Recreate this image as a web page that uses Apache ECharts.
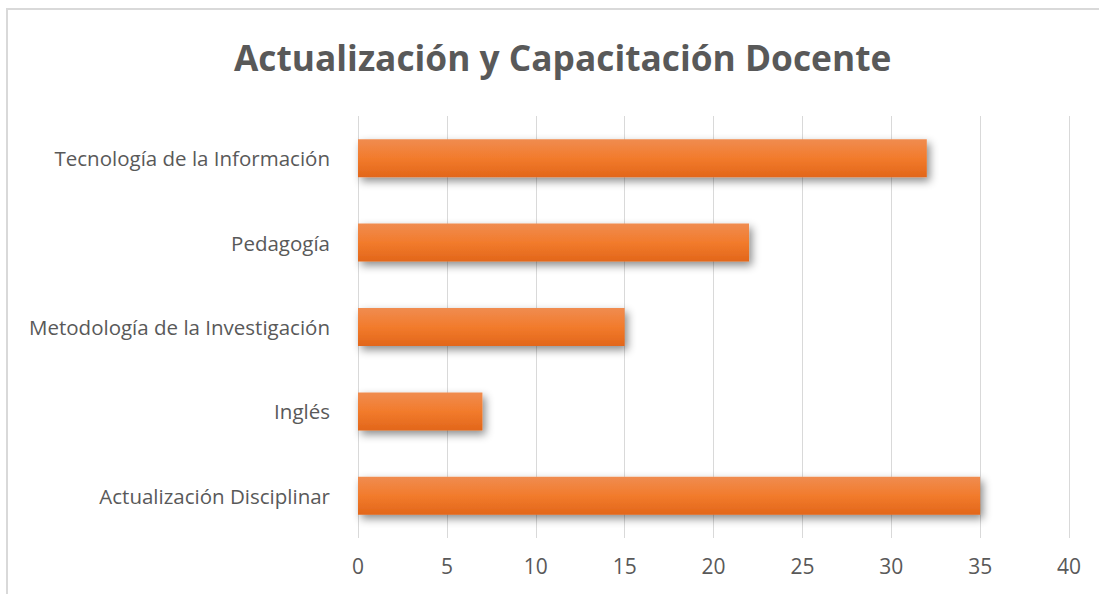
<!DOCTYPE html>
<html>
<head>
<meta charset="utf-8">
<title>Actualización y Capacitación Docente</title>
<script src="https://cdn.jsdelivr.net/npm/echarts@6/dist/echarts.min.js"></script>
<style>
  html, body { margin: 0; padding: 0; background: #fff; }
  #frame { position: absolute; left: 6px; top: 8px; width: 1200px; height: 700px; border: 2px solid #d9d9d9; box-sizing: border-box; }
  #chart { position: absolute; left: 0; top: 0; width: 1099px; height: 594px; }
</style>
</head>
<body>
<div id="frame"></div>
<div id="chart"></div>
<script>
  // categories bottom -> top (category axis on y starts at bottom)
  var categories = ['Actualización Disciplinar', 'Inglés', 'Metodología de la Investigación', 'Pedagogía', 'Tecnología de la Información'];
  var values = [35, 7, 15, 22, 32];
  var xTicks = { min: 0, max: 40, interval: 5 };

  var textColor = '#595959';
  // svg renderer: canvas shadows didn't show up in the headless shot
  var chart = echarts.init(document.getElementById('chart'), null, { renderer: 'svg' });
  chart.setOption({
    backgroundColor: 'transparent',
    title: {
      text: 'Actualización y Capacitación Docente',
      left: 229,
      top: 34,
      textStyle: { fontFamily: 'Open Sans', fontSize: 35.3, fontWeight: 'bold', color: textColor }
    },
    grid: { left: 358, right: 30, top: 116, bottom: 56, containLabel: false },
    xAxis: {
      type: 'value',
      min: xTicks.min,
      max: xTicks.max,
      interval: xTicks.interval,
      axisLine: { show: false },
      axisTick: { show: false },
      axisLabel: { color: textColor, fontFamily: 'Open Sans', fontSize: 21, margin: 17 },
      splitLine: { show: true, lineStyle: { color: '#d9d9d9', width: 1 } }
    },
    yAxis: {
      type: 'category',
      data: categories,
      axisLine: { show: false },
      axisTick: { show: false },
      axisLabel: { color: textColor, fontFamily: 'Open Sans', fontSize: 20.5, margin: 28 }
    },
    series: [{
      type: 'bar',
      data: values,
      barWidth: '45%',
      clip: false,
      itemStyle: {
        color: new echarts.graphic.LinearGradient(0, 0, 0, 1, [
          { offset: 0, color: '#F08C50' },
          { offset: 0.5, color: '#F27B2C' },
          { offset: 1, color: '#E2661A' }
        ]),
        shadowColor: 'rgba(0,0,0,0.45)',
        shadowBlur: 8,
        shadowOffsetX: 3,
        shadowOffsetY: 4
      }
    }]
  });
</script>
</body>
</html>
